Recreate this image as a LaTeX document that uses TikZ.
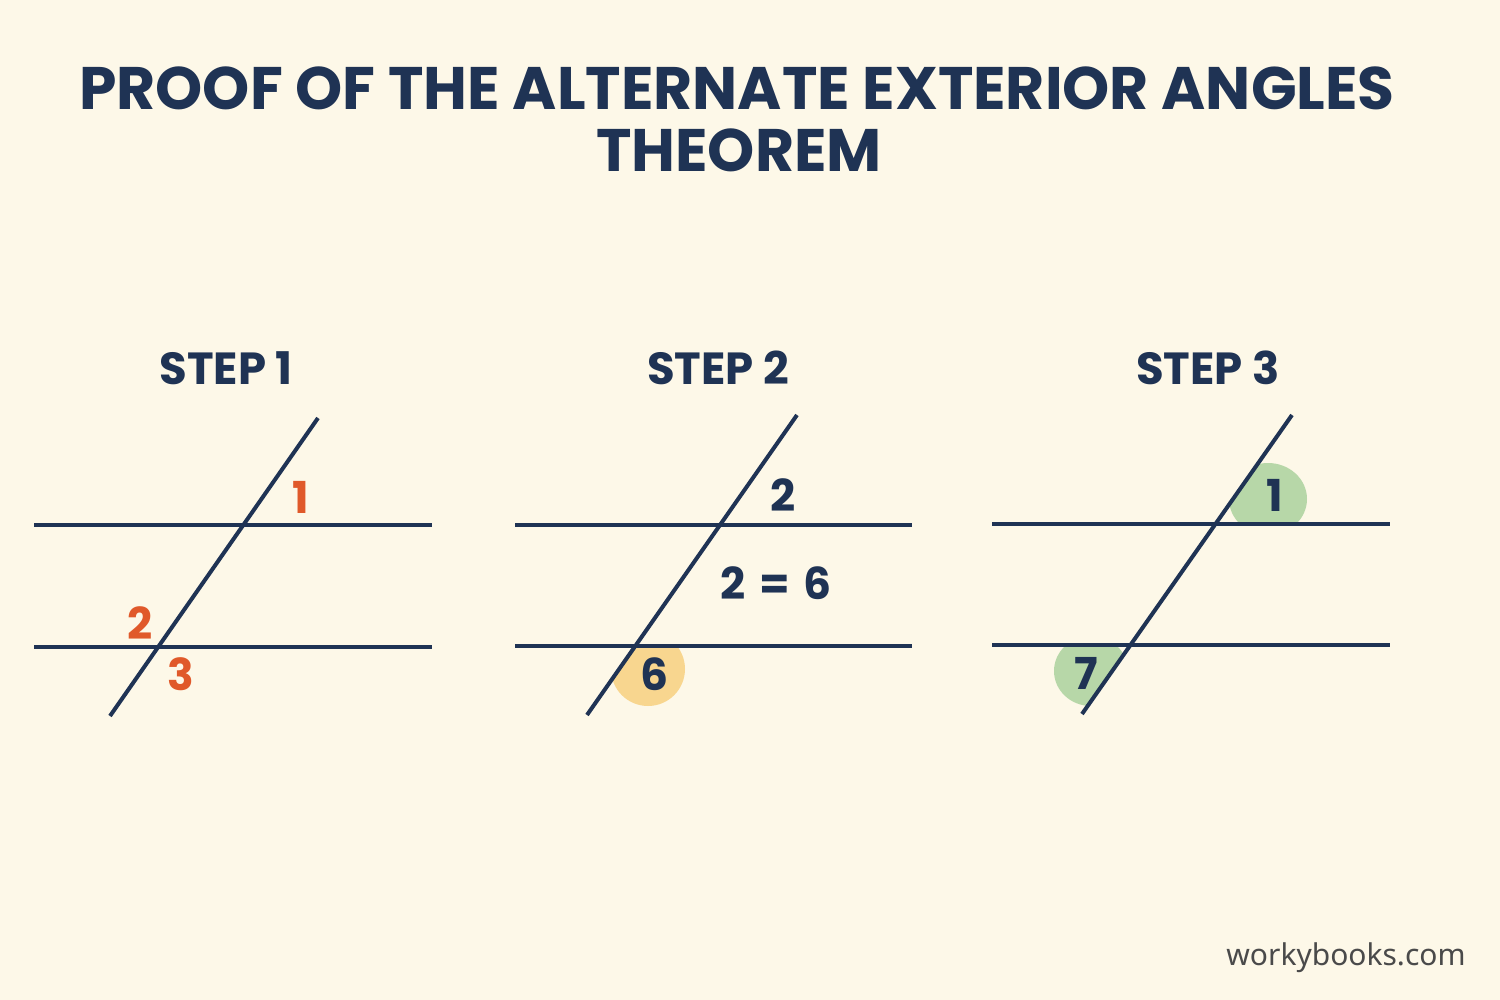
\documentclass[tikz,border=0pt]{standalone}
\usepackage{fontspec}
\setmainfont{Poppins}
\newfontfamily\wbfont{Noto Sans}
\definecolor{bg}{HTML}{FDF8E8}
\definecolor{navy}{HTML}{1F3354}
\definecolor{orng}{HTML}{E0592A}
\definecolor{ylw}{HTML}{F8D68F}
\definecolor{grn}{HTML}{B7D7A8}
\definecolor{gry}{HTML}{4A4A4A}
\tikzset{
  ln/.style={navy, line width=4pt},
  ttl/.style={navy, font=\fontsize{60}{66}\selectfont\bfseries, inner sep=0pt},
  stp/.style={navy, font=\fontsize{45}{48}\selectfont\bfseries, inner sep=0pt},
  onum/.style={orng, font=\fontsize{44}{48}\selectfont\bfseries, inner sep=0pt},
  nnum/.style={navy, font=\fontsize{44}{48}\selectfont\bfseries, inner sep=0pt},
}
\begin{document}
\begin{tikzpicture}[x=1pt,y=-1pt]
\fill[bg] (0,0) rectangle (1500,1000);
\useasboundingbox (0,0) rectangle (1500,1000);
% title
\node[ttl] (t1) at (737,88) {PROOF OF THE ALTERNATE EXTERIOR ANGLES};
\node[ttl] (t2) at (739,150) {THEOREM};
% step titles
\node[stp] (s1) at (226,368) {STEP 1};
\node[stp] (s2) at (718,368) {STEP 2};
\node[stp] (s3) at (1208,368) {STEP 3};
% highlight blobs
\begin{scope}
\clip (637,646) -- (497,846) -- (800,846) -- (800,646) -- cycle;
\fill[ylw] (648,669) circle (37);
\end{scope}
\begin{scope}
\clip (1217,524) -- (1322,374) -- (1400,374) -- (1400,524) -- cycle;
\fill[grn] (1268,499) ellipse (39 and 36);
\end{scope}
\begin{scope}
\clip (1131,645) -- (1026,795) -- (1000,795) -- (1000,645) -- cycle;
\fill[grn] (1091,671) ellipse (37 and 35);
\end{scope}
% step 1 lines
\coordinate (a1l) at (34,525); \coordinate (a1r) at (432,525);
\coordinate (b1l) at (34,647); \coordinate (b1r) at (432,647);
\coordinate (c1t) at (318,418); \coordinate (c1b) at (110,716);
\draw[ln] (a1l) -- (a1r);
\draw[ln] (b1l) -- (b1r);
\draw[ln] (c1t) -- (c1b);
\node[onum] (n11) at (301,497) {1};
\node[onum] (n12) at (140,623) {2};
\node[onum] (n13) at (181,674) {3};
% step 2 lines
\coordinate (a2l) at (515,525); \coordinate (a2r) at (912,525);
\coordinate (b2l) at (515,646); \coordinate (b2r) at (912,646);
\coordinate (c2t) at (797,415); \coordinate (c2b) at (587,715);
\draw[ln] (a2l) -- (a2r);
\draw[ln] (b2l) -- (b2r);
\draw[ln] (c2t) -- (c2b);
\node[nnum] (n21) at (783,495) {2};
\node[nnum] (n22) at (776,583) {2\hspace{0.3em}=\hspace{0.3em}6};
\node[nnum] (n23) at (655,674) {6};
% step 3 lines
\coordinate (a3l) at (992,524); \coordinate (a3r) at (1390,524);
\coordinate (b3l) at (992,645); \coordinate (b3r) at (1390,645);
\coordinate (c3t) at (1292,415); \coordinate (c3b) at (1082,714);
\draw[ln] (a3l) -- (a3r);
\draw[ln] (b3l) -- (b3r);
\draw[ln] (c3t) -- (c3b);
\node[nnum] (n31) at (1275,495) {1};
\node[nnum] (n32) at (1086,673) {7};
% footer
\node[gry, font=\wbfont\fontsize{30}{32}\selectfont, inner sep=0pt] (wb) at (1346,958) {workybooks.com};
\end{tikzpicture}
\end{document}
